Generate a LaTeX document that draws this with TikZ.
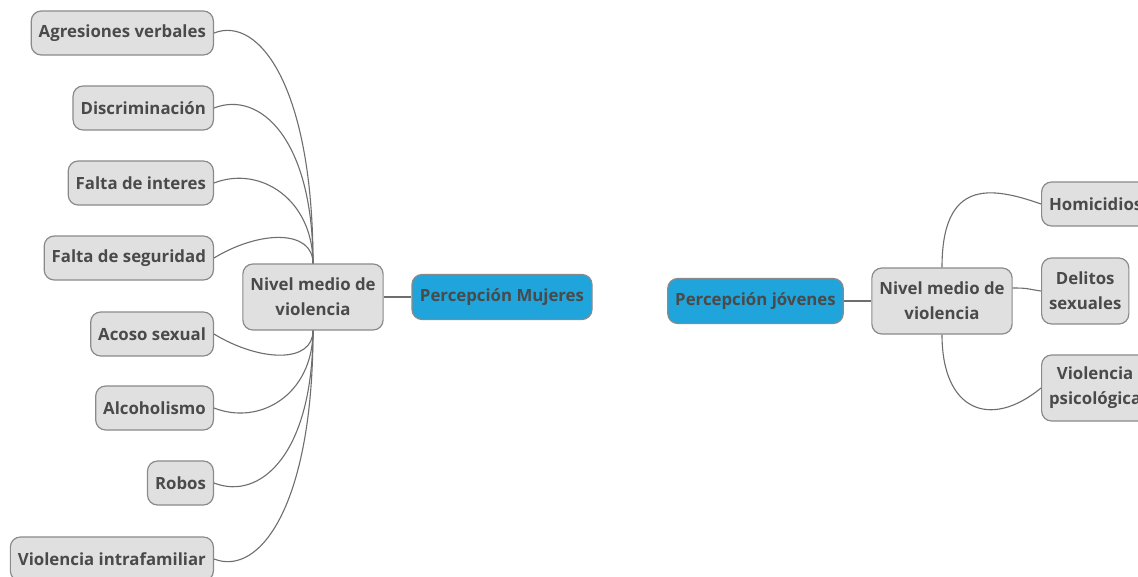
\documentclass[tikz,border=0pt]{standalone}
\usepackage{fontspec}
\setmainfont{Open Sans}
\begin{document}
\begin{tikzpicture}[x=1pt,y=-1pt,
  every node/.style={font=\fontsize{16.8}{25}\selectfont\bfseries, text=txt},
  leaf/.style={draw=bord, fill=boxf, line width=1.2pt, rounded corners=10pt,
    minimum height=44pt, inner xsep=7.5pt, inner ysep=4pt, align=center},
  mid/.style={leaf, minimum height=66pt, minimum width=140pt},
  root/.style={leaf, fill=rootf, minimum height=45pt},
  conn/.style={draw=lin, line width=1.1pt}]
\definecolor{txt}{HTML}{4A4A4A}
\definecolor{bord}{HTML}{8A8A8A}
\definecolor{boxf}{HTML}{E0E0E0}
\definecolor{rootf}{HTML}{1FA5DC}
\definecolor{lin}{HTML}{6E6E6E}
\fill[white] (0,0) rectangle (1138,576);
\useasboundingbox (0,0) rectangle (1138,576);

% left map
\node[mid] (n1) at (313,297) {Nivel medio de\\violencia};
\node[root, minimum width=180pt] (pm) at (502,297) {Percepción Mujeres};
\node[leaf, anchor=east] (a1) at (214,33) {Agresiones verbales};
\node[leaf, anchor=east] (a2) at (214,108) {Discriminación};
\node[leaf, anchor=east] (a3) at (214,183) {Falta de interes};
\node[leaf, anchor=east] (a4) at (214,258) {Falta de seguridad};
\node[leaf, anchor=east] (a5) at (214,334) {Acoso sexual};
\node[leaf, anchor=east] (a6) at (214,408) {Alcoholismo};
\node[leaf, anchor=east] (a7) at (214,483) {Robos};
\node[leaf, anchor=east] (a8) at (214,559) {Violencia intrafamiliar};

\draw[conn] (n1.east) -- (pm.west);
\draw[conn] (a1.east) .. controls +(46,-18) and +(0,-174) .. (n1.north);
\draw[conn] (a2.east) .. controls +(46,-18) and +(0,-124) .. (n1.north);
\draw[conn] (a3.east) .. controls +(46,-18) and +(0,-64) .. (n1.north);
\draw[conn] (a4.east) .. controls +(46,-28) and +(0,-34) .. (n1.north);
\draw[conn] (a5.east) .. controls +(46,28) and +(0,33) .. (n1.south);
\draw[conn] (a6.east) .. controls +(46,18) and +(0,64) .. (n1.south);
\draw[conn] (a7.east) .. controls +(46,18) and +(0,124) .. (n1.south);
\draw[conn] (a8.east) .. controls +(46,18) and +(0,174) .. (n1.south);

% right map
\node[root, minimum width=175pt] (pj) at (755.5,301) {Percepción jóvenes};
\node[mid] (n2) at (942,301) {Nivel medio de\\violencia};
\node[leaf, anchor=west] (b1) at (1041,204) {Homicidios};
\node[leaf, anchor=west, minimum height=66pt] (b2) at (1041,291) {Delitos\\sexuales};
\node[leaf, anchor=west, minimum height=66pt] (b3) at (1041,388) {Violencia\\psicológica};

\draw[conn] (pj.east) -- (n2.west);
\draw[conn] (n2.north) .. controls +(0,-88) and +(-51,-18) .. (b1.west);
\draw[conn] ([yshift=13pt]n2.east) .. controls +(16,0) and +(-14,-2) .. (b2.west);
\draw[conn] (n2.south) .. controls +(0,76) and +(-51,42) .. (b3.west);
\end{tikzpicture}
\end{document}
